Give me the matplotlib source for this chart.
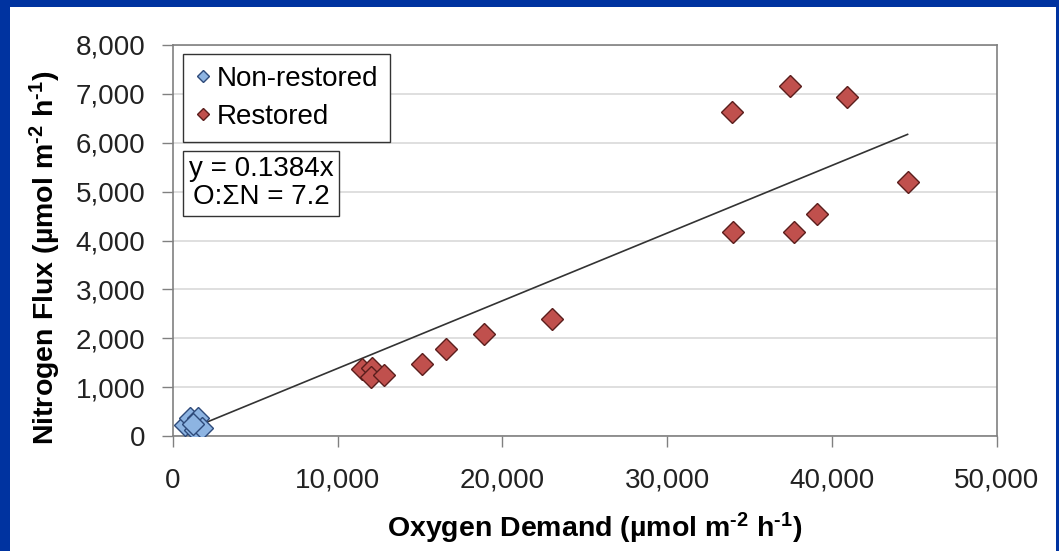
import matplotlib
matplotlib.use('Agg')
import matplotlib.pyplot as plt
import numpy as np
from matplotlib.patches import Rectangle
from matplotlib.ticker import FuncFormatter

plt.rcParams['font.family'] = ['Liberation Sans', 'DejaVu Sans']
plt.rcParams['mathtext.fontset'] = 'custom'
plt.rcParams['mathtext.rm'] = 'Liberation Sans:bold'
plt.rcParams['mathtext.default'] = 'rm'

# data
nonrest_o2 = [730, 1030, 1520, 1340, 1760, 1215]
nonrest_n = [225, 370, 370, 120, 160, 245]
rest_o2 = [11480, 12090, 12030, 12820, 15130, 16590, 18890, 23020,
           33960, 34020, 37480, 37670, 39120, 40940, 44590]
rest_n = [1370, 1390, 1207, 1250, 1470, 1780, 2090, 2390,
          6625, 4170, 7160, 4170, 4540, 6930, 5194]
slope = 0.1384

fig = plt.figure(figsize=(10.59, 5.51), dpi=100)
fig.patch.set_facecolor('#0033a0')
# white slide panel inside the blue frame
fig.patches.append(Rectangle((10 / 1059, 0), 1046 / 1059, 544 / 551,
                             transform=fig.transFigure, facecolor='white',
                             edgecolor='none', zorder=0))

ax = fig.add_axes([173 / 1059, 115 / 551, 823.7 / 1059, 391 / 551])
ax.set_zorder(1)

# trend line through the origin
all_x = np.array(nonrest_o2 + rest_o2)
tx = np.array([all_x.min(), all_x.max()])
ax.plot(tx, slope * tx, color='#333333', lw=1.2, zorder=2)

ax.plot(nonrest_o2, nonrest_n, 'D', ms=11, color='#8db4e2', mec='#2e4a7a',
        mew=1.0, label='Non-restored', zorder=3)
ax.plot(rest_o2, rest_n, 'D', ms=11, color='#c0504d', mec='#5a1e1c',
        mew=1.0, label='Restored', zorder=3)

ax.set_xlim(0, 50000)
ax.set_ylim(0, 8000)
ax.set_xticks(np.arange(0, 50001, 10000))
ax.set_yticks(np.arange(0, 8001, 1000))
fmt = FuncFormatter(lambda v, p: '{:,.0f}'.format(v))
ax.xaxis.set_major_formatter(fmt)
ax.yaxis.set_major_formatter(fmt)
ax.tick_params(axis='both', labelsize=20, colors='#808080', labelcolor='#222222',
               direction='out', length=8, width=1)
ax.tick_params(axis='x', pad=15)
ax.tick_params(axis='y', pad=12)
ax.grid(axis='y', color='#d9d9d9', lw=1.2)
ax.set_axisbelow(True)
for s in ax.spines.values():
    s.set_color('#808080')
    s.set_linewidth(1.2)

ax.set_xlabel(r'Oxygen Demand (µmol m$^{\text{-2}}$ h$^{\text{-1}}$)', fontsize=20.5,
              fontweight='bold', labelpad=12)
ax.set_ylabel(r'Nitrogen Flux (µmol m$^{\text{-2}}$ h$^{\text{-1}}$)', fontsize=20.5,
              fontweight='bold', labelpad=9)
ax.xaxis.label.set_x(0.512)
ax.yaxis.label.set_y(0.455)

leg = ax.legend(loc='upper left', bbox_to_anchor=(0.012, 0.977), fontsize=20,
                markerscale=0.6, handlelength=0.6, handletextpad=0.2,
                borderpad=0.42, labelspacing=0.45, fancybox=False,
                framealpha=1, edgecolor='#333333', borderaxespad=0)
leg.get_frame().set_linewidth(1.0)

ax.text(0.019, 0.715, 'y = 0.1384x\nO:ΣN = 7.2', transform=ax.transAxes,
        fontsize=20, ha='left', va='top', linespacing=1.1,
        multialignment='center',
        bbox=dict(boxstyle='square,pad=0.2', facecolor='white',
                  edgecolor='#333333', lw=1.0))

fig.savefig('out.png', dpi=100, facecolor=fig.get_facecolor())
